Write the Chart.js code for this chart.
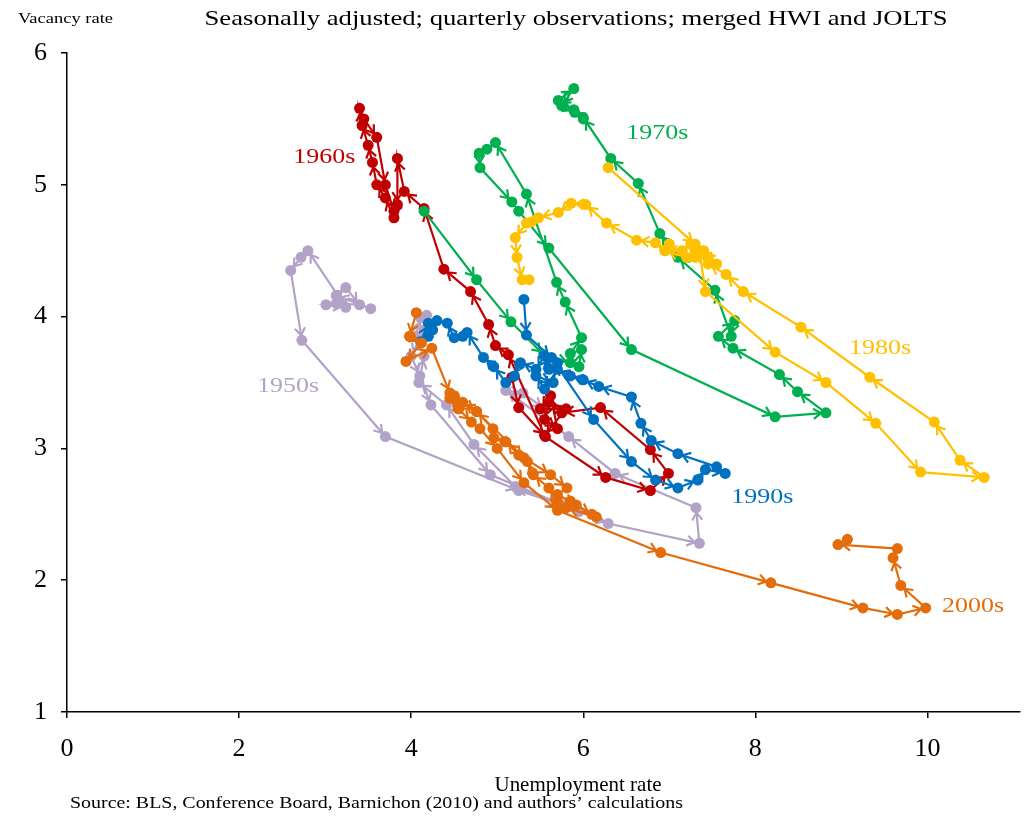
<!DOCTYPE html>
<html>
<head>
<meta charset="utf-8">
<script src="https://cdn.jsdelivr.net/npm/chart.js@4"></script>
<style>
  html, body { margin: 0; padding: 0; background: #fff; }
  #wrap { width: 1025px; height: 819px; }
</style>
</head>
<body>
<div id="wrap"><canvas id="bev"></canvas></div>
<script>
// quarterly observations, unemployment rate (u) and vacancy rate (v)
var u50 = [3.53, 3.13, 3.24, 3.4, 3.13, 3.01, 3.24, 2.8, 2.72, 2.6, 2.73, 3.7,
           5.25, 5.75, 5.95, 5.21, 4.73, 4.41, 4.09, 4.15, 4.05, 4.11, 4.18, 4.15,
           4.0, 4.1, 4.23, 4.92, 6.29, 7.35, 7.31, 6.37, 5.83, 5.1, 5.3, 5.55];
var v50 = [4.06, 4.16, 4.22, 4.09, 4.1, 4.09, 4.07, 4.5, 4.45, 4.35, 3.82, 3.09,
           2.68, 2.57, 2.52, 2.71, 3.03, 3.33, 3.5, 3.7, 3.85, 3.99, 4.01, 3.9,
           3.7, 3.55, 3.33, 2.8, 2.43, 2.28, 2.55, 2.81, 3.09, 3.44, 3.42, 3.3];

var u60 = [5.17, 5.25, 5.56, 6.26, 6.78, 6.99, 6.78, 6.2, 5.75, 5.6, 5.55, 5.7,
           5.62, 5.5, 5.8, 5.55, 5.13, 4.98, 4.9, 4.69, 4.38, 4.15, 3.92, 3.84,
           3.84, 3.8, 3.7, 3.6, 3.55, 3.5, 3.43, 3.4, 3.45, 3.6, 3.7, 3.8];
var v60 = [3.54, 3.31, 3.09, 2.78, 2.68, 2.81, 2.99, 3.31, 3.27, 3.35, 3.22, 3.15,
           3.4, 3.3, 3.3, 3.1, 3.71, 3.78, 3.94, 4.19, 4.36, 4.82, 4.95, 5.2,
           4.85, 4.75, 4.9, 5.0, 5.17, 5.3, 5.45, 5.58, 5.5, 5.36, 5.0, 4.8];

var u70 = [4.15, 4.76, 5.16, 5.54, 5.85, 5.95, 5.98, 5.85, 5.98, 5.79, 5.69, 5.34,
           4.98, 4.88, 4.79, 4.8, 5.17, 5.25, 5.6, 6.56, 8.23, 8.82, 8.49, 8.28,
           7.74, 7.57, 7.76, 7.72, 7.53, 7.1, 6.89, 6.64, 6.32, 6.0, 5.89, 5.71,
           5.89, 5.75, 5.9, 6.0];
var v70 = [4.8, 4.28, 3.96, 3.71, 3.65, 3.62, 3.75, 3.72, 3.84, 4.11, 4.26, 4.93,
           5.32, 5.27, 5.24, 5.13, 4.87, 4.8, 4.52, 3.75, 3.24, 3.27, 3.43, 3.56,
           3.76, 3.85, 3.97, 3.85, 4.2, 4.45, 4.63, 5.01, 5.2, 5.51, 5.57, 5.64,
           5.73, 5.6, 5.55, 5.5];

var u80 = [6.29, 7.3, 7.55, 7.4, 7.45, 7.35, 7.42, 8.23, 8.82, 9.4, 9.92, 10.66,
           10.38, 10.08, 9.33, 8.53, 7.86, 7.66, 7.45, 7.3, 7.3, 7.25, 7.15, 6.95,
           7.0, 7.2, 6.95, 6.84, 6.62, 6.27, 6.03, 5.86, 5.71, 5.48, 5.4, 5.34,
           5.21, 5.23, 5.29, 5.37];
var v80 = [5.13, 4.55, 4.4, 4.5, 4.45, 4.5, 4.19, 3.73, 3.5, 3.19, 2.82, 2.78,
           2.91, 3.2, 3.54, 3.92, 4.19, 4.32, 4.4, 4.5, 4.45, 4.55, 4.5, 4.5,
           4.55, 4.45, 4.5, 4.56, 4.58, 4.71, 4.85, 4.86, 4.79, 4.75, 4.72, 4.71,
           4.6, 4.45, 4.28, 4.28];

var u90 = [5.31, 5.34, 5.63, 6.12, 6.56, 6.84, 7.1, 7.33, 7.42, 7.65, 7.55, 7.1,
           6.79, 6.67, 6.56, 6.18, 6.0, 5.85, 5.7, 5.55, 5.45, 5.65, 5.7, 5.6,
           5.55, 5.45, 5.27, 5.2, 5.1, 4.96, 4.84, 4.65, 4.6, 4.5, 4.42, 4.3,
           4.25, 4.2, 4.11, 4.2];
var v90 = [4.13, 3.86, 3.69, 3.22, 2.9, 2.76, 2.7, 2.76, 2.84, 2.81, 2.86, 2.96,
           3.06, 3.19, 3.39, 3.47, 3.52, 3.55, 3.6, 3.45, 3.55, 3.5, 3.65, 3.6,
           3.7, 3.6, 3.65, 3.55, 3.5, 3.62, 3.69, 3.88, 3.85, 3.84, 3.95, 3.97,
           3.9, 3.85, 3.81, 3.95];

var u00 = [4.06, 3.98, 4.12, 3.94, 4.24, 4.45, 4.76, 5.31, 5.62, 5.81, 5.7, 5.92,
           5.85, 6.1, 6.15, 5.8, 5.7, 5.6, 5.42, 5.35, 5.25, 5.1, 4.96, 4.95,
           4.76, 4.6, 4.55, 4.45, 4.5, 4.55, 4.7, 4.8, 5.0, 5.31, 5.7, 6.9,
           8.18, 9.25, 9.65, 9.98, 9.69, 9.6, 9.65, 8.96, 9.07];
var v00 = [4.03, 3.85, 3.8, 3.66, 3.76, 3.42, 3.28, 2.93, 2.8, 2.7, 2.65, 2.57,
           2.6, 2.5, 2.48, 2.55, 2.6, 2.7, 2.8, 2.9, 2.95, 3.05, 3.08, 3.15,
           3.28, 3.35, 3.3, 3.38, 3.4, 3.3, 3.2, 3.15, 3.0, 2.74, 2.53, 2.21,
           1.98, 1.79, 1.74, 1.79, 1.96, 2.17, 2.24, 2.27, 2.31];

var decades = ['1950s', '1960s', '1970s', '1980s', '1990s', '2000s'];
var colors = ['#b3a2c7', '#c00000', '#00b050', '#ffc000', '#0070c0', '#e46c0a'];
var xTicks = [0, 2, 4, 6, 8, 10];
var yTicks = [1, 2, 3, 4, 5, 6];

// where the decade names sit, in axis units
var labelX = [2.57, 2.99, 6.86, 9.45, 8.08, 10.53];
var labelY = [3.47, 5.21, 5.39, 3.76, 2.63, 1.80];

var us = [u50, u60, u70, u80, u90, u00];
var vs = [v50, v60, v70, v80, v90, v00];

var SERIF = '"Liberation Serif", "Times New Roman", Times, serif';

function pts(u, v) {
  return u.map(function (x, i) { return { x: x, y: v[i] }; });
}

var datasets = decades.map(function (d, i) {
  return {
    label: d,
    data: pts(us[i], vs[i]),
    showLine: true,
    borderColor: colors[i],
    backgroundColor: colors[i],
    borderWidth: 2.2,
    pointRadius: 5.5,
    pointBorderWidth: 0,
    order: 5 - i
  };
});

function fitText(ctx, text, x, y, w, size, align, color) {
  ctx.save();
  ctx.font = size + 'px ' + SERIF;
  var m = ctx.measureText(text).width;
  ctx.translate(x, y);
  ctx.scale(w / m, 1);
  ctx.textAlign = align;
  ctx.textBaseline = 'middle';
  ctx.fillStyle = color;
  ctx.fillText(text, 0, 0);
  ctx.restore();
}

// arrowheads on each segment, drawn with the series
var arrows = {
  id: 'arrows',
  afterDatasetDraw: function (chart, args) {
    var el = args.meta.data;
    var ctx = chart.ctx;
    ctx.save();
    ctx.strokeStyle = colors[args.index];
    ctx.lineWidth = 2.2;
    for (var i = 1; i < el.length; i++) {
      var a = el[i - 1], b = el[i];
      var dx = b.x - a.x, dy = b.y - a.y;
      var len = Math.hypot(dx, dy);
      if (len < 12) continue;
      var ang = Math.atan2(dy, dx);
      var tx = b.x - Math.cos(ang) * 5, ty = b.y - Math.sin(ang) * 5;
      ctx.beginPath();
      [-0.6, 0.6].forEach(function (s) {
        ctx.moveTo(tx, ty);
        ctx.lineTo(tx - 9 * Math.cos(ang + s), ty - 9 * Math.sin(ang + s));
      });
      ctx.stroke();
    }
    ctx.restore();
  }
};

var texts = {
  id: 'texts',
  afterDraw: function (chart) {
    var ctx = chart.ctx;
    var sx = chart.scales.x, sy = chart.scales.y;
    decades.forEach(function (d, i) {
      fitText(ctx, d, sx.getPixelForValue(labelX[i]), sy.getPixelForValue(labelY[i]),
        62, 22, 'center', colors[i]);
    });
    fitText(ctx, 'Seasonally adjusted; quarterly observations; merged HWI and JOLTS',
      576, 19, 743, 22, 'center', '#000');
    fitText(ctx, 'Vacancy rate', 18, 19, 95, 15, 'left', '#000');
    fitText(ctx, 'Unemployment rate', 578, 785, 167, 21, 'center', '#000');
    fitText(ctx, 'Source: BLS, Conference Board, Barnichon (2010) and authors\u2019 calculations',
      70, 804, 613, 17, 'left', '#000');
  }
};

Chart.defaults.font.family = SERIF;

new Chart(document.getElementById('bev'), {
  type: 'scatter',
  data: { datasets: datasets },
  plugins: [arrows, texts],
  options: {
    responsive: true,
    maintainAspectRatio: false,
    animation: false,
    layout: { padding: { top: 53, left: 0, right: 3, bottom: 0 } },
    plugins: { legend: { display: false }, tooltip: { enabled: false } },
    scales: {
      x: {
        type: 'linear',
        min: 0,
        max: 11.07,
        afterBuildTicks: function (s) { s.ticks = xTicks.map(function (v) { return { value: v }; }); },
        afterFit: function (s) { s.height = 107; },
        grid: { drawOnChartArea: false, drawTicks: true, tickLength: 6, color: '#000', lineWidth: 1.5 },
        border: { color: '#000', width: 1.5 },
        ticks: { color: '#000', padding: 16, font: { size: 26 } }
      },
      y: {
        type: 'linear',
        min: 1,
        max: 6,
        afterBuildTicks: function (s) { s.ticks = yTicks.map(function (v) { return { value: v }; }); },
        afterFit: function (s) { s.width = 67; },
        grid: { drawOnChartArea: false, drawTicks: true, tickLength: 6, color: '#000', lineWidth: 1.5 },
        border: { color: '#000', width: 1.5 },
        ticks: { color: '#000', padding: 14, font: { size: 26 } }
      }
    }
  }
});
</script>
</body>
</html>
